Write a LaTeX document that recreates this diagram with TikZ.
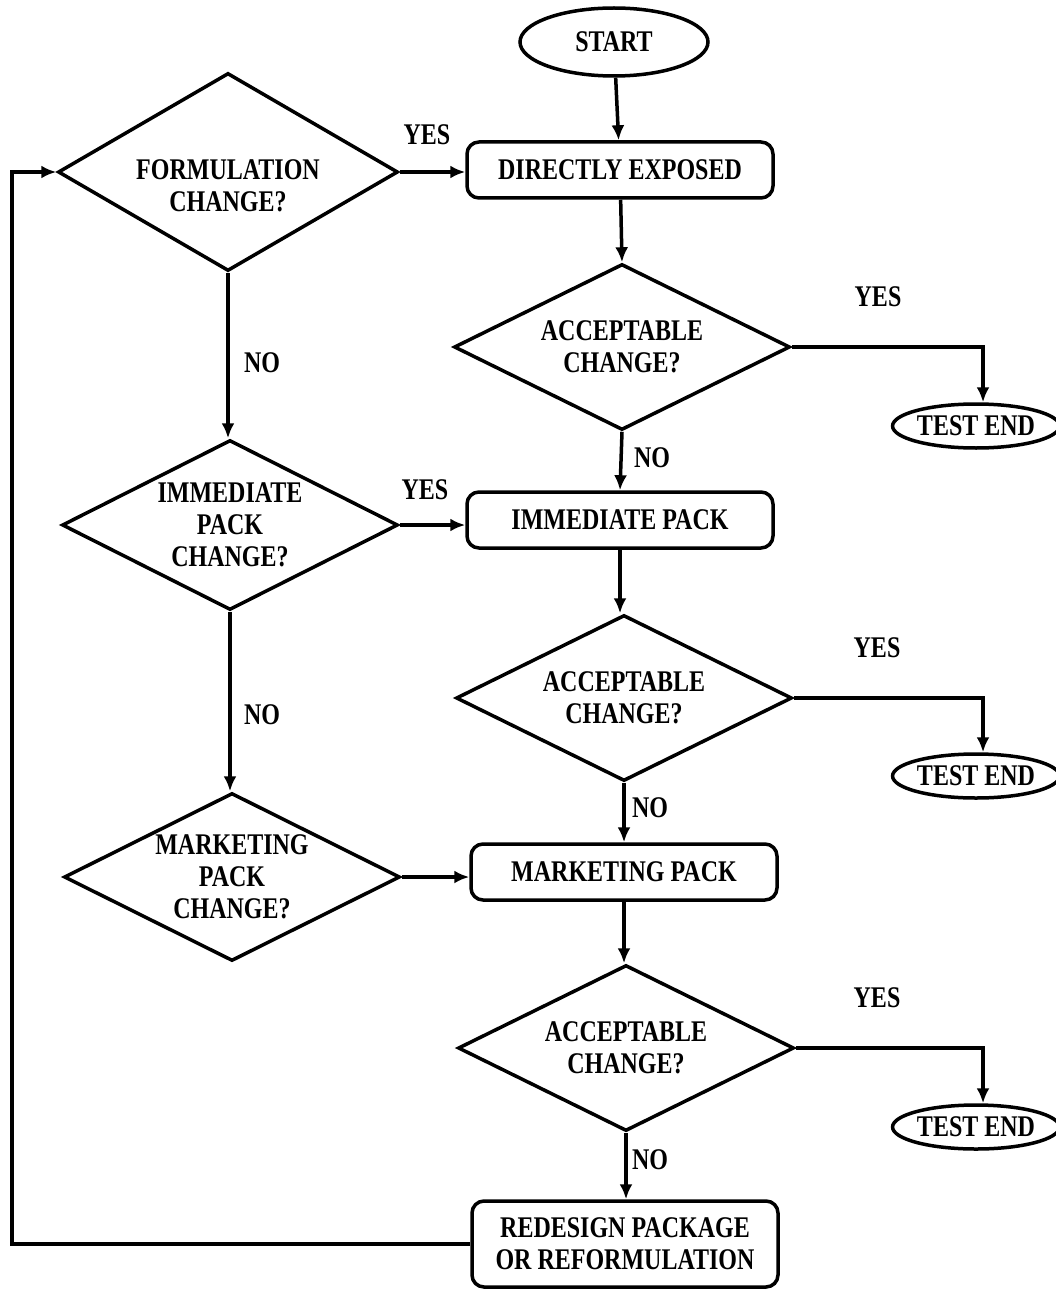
\documentclass[tikz,border=0pt]{standalone}
\usepackage{fontspec}
\setmainfont{Liberation Serif}[FakeStretch=0.8]
\usepackage{tikz}
\usetikzlibrary{%
arrows.meta,
shapes,
positioning}

\tikzset{
  flow/.style={line width=3.5pt},
  txt/.style={font=\fontsize{30}{32}\selectfont\bfseries, align=center, inner sep=0pt},
  term/.style={txt, draw, line width=3.5pt, ellipse, minimum width=154pt, minimum height=44pt},
  procbox/.style={txt, draw, line width=3.5pt, rounded corners=12pt, minimum width=306pt, minimum height=56pt},
  decide/.style={txt, draw, line width=3.5pt, diamond, aspect=2, minimum width=336pt, minimum height=166pt},
}

\begin{document}
\begin{tikzpicture}[x=1pt,y=-1pt,>={Latex[length=15pt,width=13pt]},line join=miter]
  \useasboundingbox (0,0) rectangle (1055,1289);
%%
  % Node: start
  \node[term, minimum width=188pt, minimum height=68pt] (start) at (614,42) {START};
  % Node: direct
  \node[procbox] (direct) at (620,170) {DIRECTLY EXPOSED};
  % Node: formula
  \node[decide, minimum width=340pt, minimum height=198pt,
        label={[txt, yshift=-14pt]center:{FORMULATION\\CHANGE?}}] (formula) at (228,172) {};
  % Node: accept1
  \node[decide] (accept1) at (622,347) {ACCEPTABLE\\CHANGE?};
  % Node: end1
  \node[term] (end1) at (976,426) {TEST END};
  % Node: immed
  \node[procbox] (immed) at (620,520) {IMMEDIATE PACK};
  % Node: immchg
  \node[decide, minimum height=170pt] (immchg) at (230,525) {IMMEDIATE\\PACK\\CHANGE?};
  % Node: accept2
  \node[decide] (accept2) at (624,698) {ACCEPTABLE\\CHANGE?};
  % Node: end2
  \node[term] (end2) at (976,776) {TEST END};
  % Node: market
  \node[procbox] (market) at (624,872) {MARKETING PACK};
  % Node: mktchg
  \node[decide, minimum height=168pt] (mktchg) at (232,877) {MARKETING\\PACK\\CHANGE?};
  % Node: accept3
  \node[decide] (accept3) at (626,1048) {ACCEPTABLE\\CHANGE?};
  % Node: end3
  \node[term] (end3) at (976,1127) {TEST END};
  % Node: redesign
  \node[procbox, minimum height=86pt] (redesign) at (625,1244) {REDESIGN PACKAGE\\OR REFORMULATION};
  \coordinate (loop) at (12,1244);
%%
  % Edge: start -> direct
  \draw [flow,->] (start) -- (direct);
  % Edge: formula -> direct
  \draw [flow,->] (formula.east) -- (direct.west |- formula.east);
  \node[txt] (yes1) at (427,135) {YES};
  % Edge: direct -> accept1
  \draw [flow,->] (direct) -- (accept1.north);
  % Edge: accept1 -> end1
  \draw [flow,->] (accept1.east) -| ([xshift=7pt]end1.north);
  \node[txt] (yes2) at (878,297) {YES};
  % Edge: accept1 -> immed
  \draw [flow,->] (accept1.south) -- (immed.north);
  \node[txt] (no2) at (652,458) {NO};
  % Edge: formula -> immchg
  \draw [flow,->] (formula.south) -- (formula.south |- immchg.north);
  \node[txt] (no1) at (262,363) {NO};
  % Edge: immchg -> immed
  \draw [flow,->] (immchg.east) -- (immed.west |- immchg.east);
  \node[txt] (yes3) at (425,490) {YES};
  % Edge: immed -> accept2
  \draw [flow,->] (immed.south) -- (immed.south |- accept2.north);
  % Edge: accept2 -> end2
  \draw [flow,->] (accept2.east) -| ([xshift=7pt]end2.north);
  \node[txt] (yes4) at (877,648) {YES};
  % Edge: accept2 -> market
  \draw [flow,->] (accept2.south) -- (market.north);
  \node[txt] (no3) at (650,808) {NO};
  % Edge: immchg -> mktchg
  \draw [flow,->] (immchg.south) -- (immchg.south |- mktchg.north);
  \node[txt] (no4) at (262,715) {NO};
  % Edge: mktchg -> market
  \draw [flow,->] (mktchg.east) -- (market.west |- mktchg.east);
  % Edge: market -> accept3
  \draw [flow,->] (market.south) -- (market.south |- accept3.north);
  % Edge: accept3 -> end3
  \draw [flow,->] (accept3.east) -| ([xshift=7pt]end3.north);
  \node[txt] (yes5) at (877,998) {YES};
  % Edge: accept3 -> redesign
  \draw [flow,->] (accept3.south) -- (accept3.south |- redesign.north);
  \node[txt] (no5) at (650,1160) {NO};
  % Edge: redesign -> formula
  \draw [flow,->] (redesign.west) -- (loop) |- (formula.west);
%
\end{tikzpicture}
\end{document}
